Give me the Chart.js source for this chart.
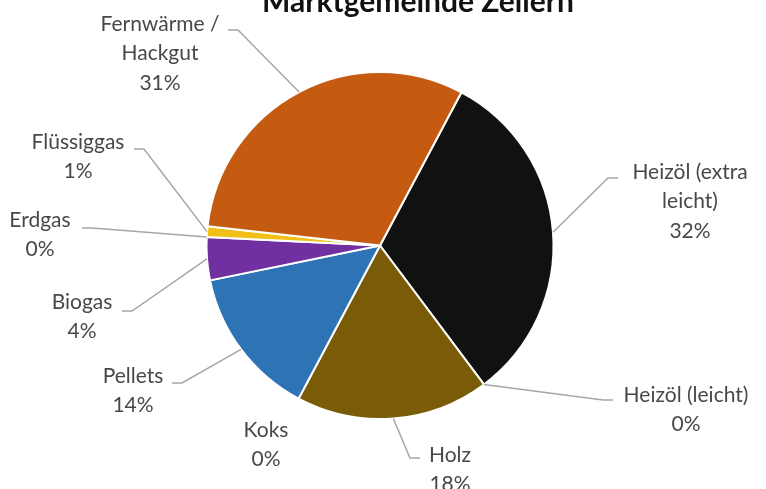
<!DOCTYPE html>
<html>
<head>
<meta charset="utf-8">
<script src="https://cdn.jsdelivr.net/npm/chart.js@4"></script>
<style>
  html, body { margin: 0; padding: 0; background: #fff; }
  #wrap { width: 766px; height: 489px; position: relative; }
</style>
</head>
<body>
<div id="wrap"><canvas id="pie"></canvas></div>
<script>
// data
const labels = ['Heizöl (extra leicht)', 'Heizöl (leicht)', 'Holz', 'Koks', 'Pellets', 'Biogas', 'Erdgas', 'Flüssiggas', 'Fernwärme / Hackgut'];
const shares = [32, 0, 18, 0, 14, 4, 0, 1, 31];
const labelLines = [['Heizöl (extra', 'leicht)'], ['Heizöl (leicht)'], ['Holz'], ['Koks'], ['Pellets'], ['Biogas'], ['Erdgas'], ['Flüssiggas'], ['Fernwärme /', 'Hackgut']];
const colors = ['#111111', '#7a5c08', '#7a5c08', '#7a5c08', '#2e74b5', '#7030a0', '#a5a5a5', '#f2bf16', '#c55a11'];
const title = 'Marktgemeinde Zellern';

// layout for the labels: text centre x, first line y, leader anchor (x,y) or null
const labelLayout = [
    { x: 690, y: 172, ax: 618, ay: 178 },
    { x: 686, y: 395, ax: 613, ay: 400 },
    { x: 450, y: 455, ax: 420, ay: 458 },
    { x: 266, y: 430, ax: null },
    { x: 133, y: 376, ax: 172, ay: 383 },
    { x: 82,  y: 302, ax: 122, ay: 311 },
    { x: 40,  y: 220, ax: 82,  ay: 228 },
    { x: 78,  y: 142, ax: 134, ay: 149 },
    { x: 160, y: 24,  ax: 228, ay: 30 }
];

const fontFamily = 'Lato, "Open Sans", sans-serif';

const labelPlugin = {
    id: 'pieLabels',
    afterDatasetsDraw(chart) {
        const ctx = chart.ctx;
        const meta = chart.getDatasetMeta(0);
        ctx.save();
        meta.data.forEach((arc, i) => {
            const p = arc.getProps(['x', 'y', 'startAngle', 'endAngle', 'outerRadius'], true);
            const lay = labelLayout[i];
            const mid = (p.startAngle + p.endAngle) / 2;
            const ex = p.x + Math.cos(mid) * p.outerRadius;
            const ey = p.y + Math.sin(mid) * p.outerRadius;
            if (lay.ax !== null) {
                const dir = lay.ax < ex ? 1 : -1;
                ctx.strokeStyle = '#a6a6a6';
                ctx.lineWidth = 1.5;
                ctx.beginPath();
                ctx.moveTo(lay.ax, lay.ay);
                ctx.lineTo(lay.ax + dir * 10, lay.ay);
                ctx.lineTo(ex, ey);
                ctx.stroke();
            }
            ctx.fillStyle = '#484848';
            ctx.font = '21px ' + fontFamily;
            ctx.textAlign = 'center';
            ctx.textBaseline = 'middle';
            const lines = labelLines[i].concat([shares[i] + '%']);
            lines.forEach((t, k) => ctx.fillText(t, lay.x, lay.y + k * 29.5));
        });
        // title, cut off at the top edge like the source
        ctx.fillStyle = '#111';
        ctx.font = 'bold 30px ' + fontFamily;
        ctx.textAlign = 'center';
        ctx.textBaseline = 'alphabetic';
        ctx.fillText(title, 418, 12);
        ctx.restore();
    }
};

new Chart(document.getElementById('pie'), {
    type: 'pie',
    data: {
        labels: labels,
        datasets: [{
            data: shares,
            backgroundColor: colors,
            borderColor: '#ffffff',
            borderWidth: 2
        }]
    },
    options: {
        responsive: true,
        maintainAspectRatio: false,
        animation: false,
        rotation: 28,
        layout: { padding: { left: 205, right: 211, top: 71, bottom: 69 } },
        plugins: {
            legend: { display: false },
            tooltip: { enabled: false },
            title: { display: false }
        }
    },
    plugins: [labelPlugin]
});
</script>
</body>
</html>
